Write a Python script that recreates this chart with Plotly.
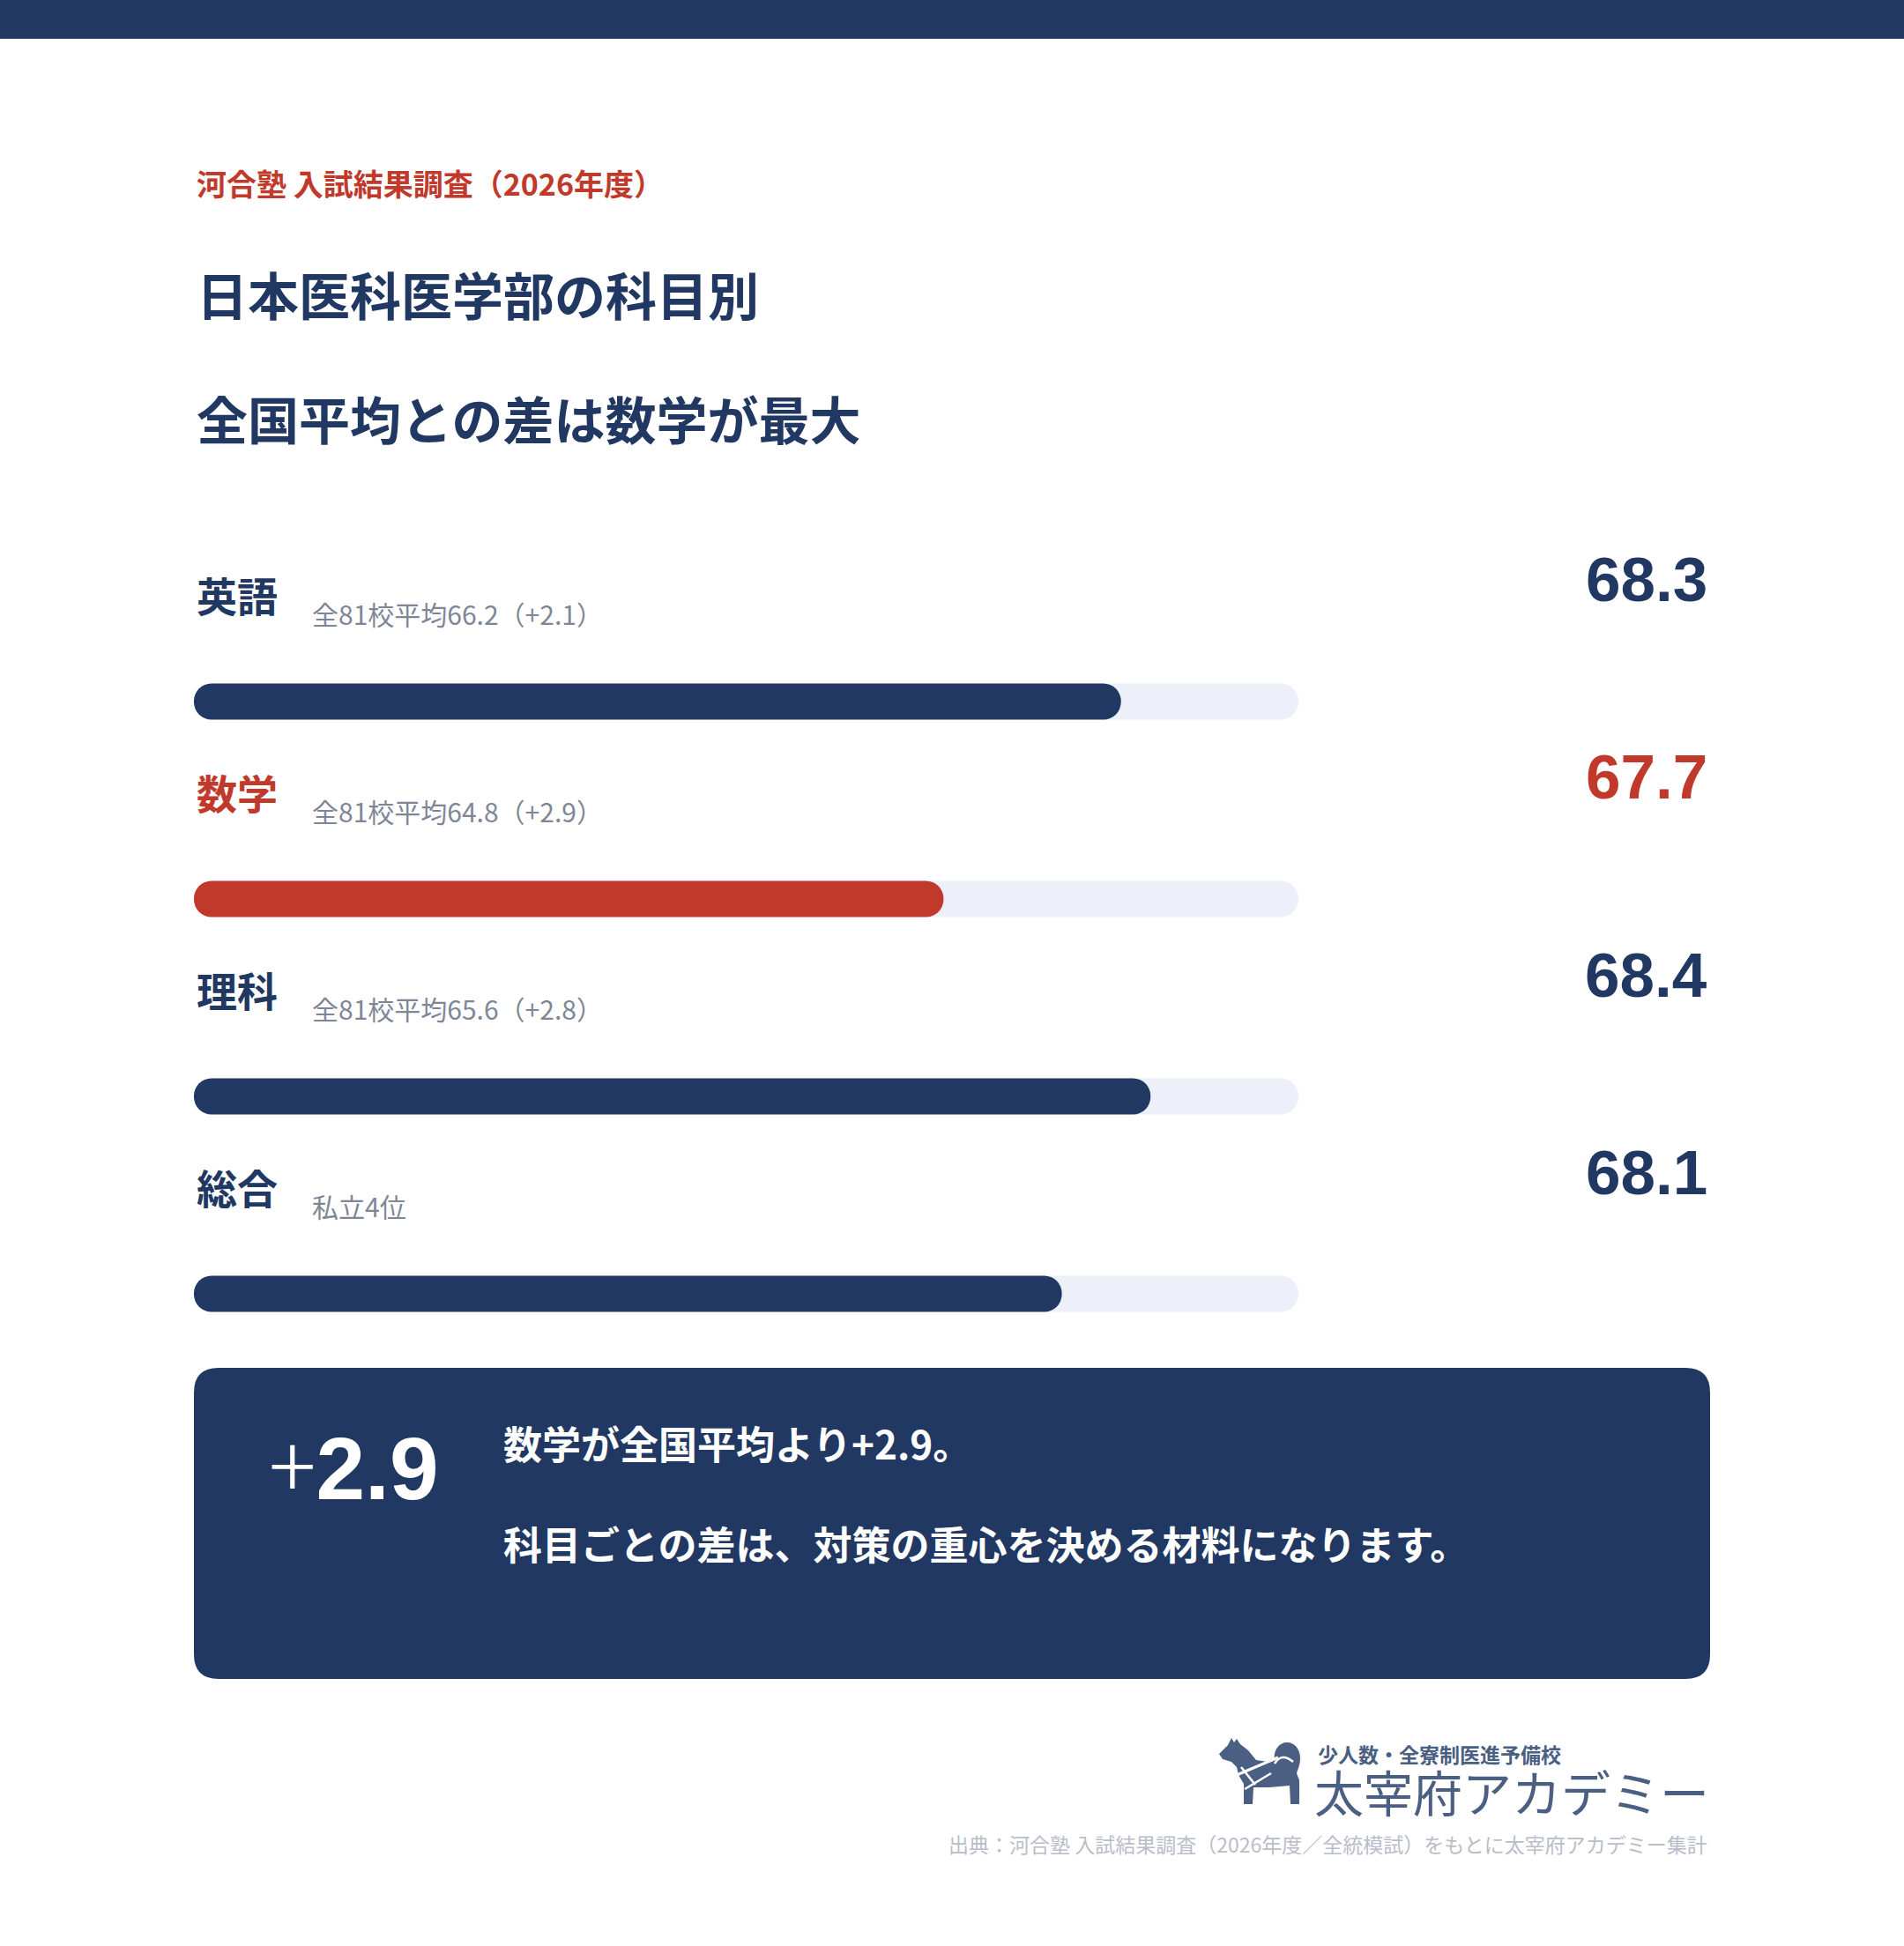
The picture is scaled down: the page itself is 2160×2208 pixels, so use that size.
import base64
import plotly.graph_objects as go

W, H = 2160, 2208

NAVY = "#213862"
RED = "#c0392b"
TRACK = "#edf0f8"
GRAY = "#7f8797"
LIGHT = "#b9bdc9"
LOGO = "#4a5f82"
JP = "Noto Sans CJK JP"
NUM = "Liberation Sans"

# data
subjects = ["英語", "数学", "理科", "総合"]
scores = [68.3, 67.7, 68.4, 68.1]
national_avg = [66.2, 64.8, 65.6, None]
diffs = [2.1, 2.9, 2.8, None]
notes = [None, None, None, "私立4位"]
highlight = "数学"
school_count = 81

# bar scale (value at the left edge of the track / at its right end)
X_LO, X_HI = 65.165, 68.9
BAR_PX = 41
ROW_PX = 224


def px_x(p):
    return p / W


def px_y(p):
    return 1 - p / H


# track spans x pixels 220..1473, rows centred at 796 + 224*i
x_dom = [px_x(220), px_x(1473)]
y_dom = [px_y(572 + ROW_PX * 4.5), px_y(572)]

rows = list(range(len(subjects)))
colors = [RED if s == highlight else NAVY for s in subjects]
bw = BAR_PX / ROW_PX


def bar(x, color):
    # bars with a base get both ends rounded
    return go.Bar(y=rows, x=x, base=X_LO, orientation="h", width=bw,
                  marker=dict(color=color, cornerradius=20, line_width=0),
                  hoverinfo="skip")


fig = go.Figure()
fig.add_trace(bar([X_HI - X_LO] * len(rows), TRACK))
fig.add_trace(bar([s - X_LO for s in scores], colors))

ann = []
for i, s in enumerate(subjects):
    c = colors[i]
    ann.append(dict(text=s, x=px_x(221), xref="paper", y=i, yref="y", yshift=122,
                    xanchor="left", yanchor="middle", showarrow=False,
                    font=dict(family=JP, size=46, color=c, weight="bold")))
    if national_avg[i] is not None:
        sub = f"全{school_count}校平均{national_avg[i]}（+{diffs[i]}）"
    else:
        sub = notes[i]
    ann.append(dict(text=sub, x=px_x(352), xref="paper", y=i, yref="y", yshift=100,
                    xanchor="left", yanchor="middle", showarrow=False,
                    font=dict(family=JP, size=30, color=GRAY)))
    ann.append(dict(text=f"{scores[i]:.1f}", x=px_x(1939), xref="paper", y=i, yref="y",
                    yshift=138, xanchor="right", yanchor="middle", showarrow=False,
                    font=dict(family=NUM, size=71, color=c, weight="bold")))

hi = subjects.index(highlight)
gap = diffs[hi]


def paper_text(text, xp, yp, size, color, anchor="left", weight="normal", family=JP):
    return dict(text=text, x=px_x(xp), y=px_y(yp), xref="paper", yref="paper",
                xanchor=anchor, yanchor="middle", showarrow=False,
                font=dict(family=family, size=size, color=color, weight=weight))


ann += [
    paper_text("河合塾 入試結果調査（2026年度）", 221, 208, 34, RED, weight="bold"),
    paper_text("日本医科医学部の科目別", 221, 333, 58, NAVY, weight="bold"),
    paper_text("全国平均との差は数学が最大", 221, 474, 58, NAVY, weight="bold"),
    paper_text(f"<span style='font-family:{JP};font-weight:300'>+</span>{gap}", 303, 1657, 100,
               "white", weight="bold", family=NUM),
    paper_text(f"{highlight}が全国平均より+{gap}。", 569, 1637, 44, "white", weight="bold"),
    paper_text("科目ごとの差は、対策の重心を決める材料になります。", 569, 1751, 44, "white",
               weight="bold"),
    paper_text("少人数・全寮制医進予備校", 1633, 1990, 23, LOGO, anchor="center", weight="bold"),
    paper_text("太宰府アカデミー", 1715, 2031, 56, LOGO, anchor="center"),
    paper_text("出典：河合塾 入試結果調査（2026年度／全統模試）をもとに太宰府アカデミー集計",
               1939, 2092, 23, LIGHT, anchor="right"),
]

# rounded summary box
bx0, bx1, by0, by1, r = 220, 1940, 1552, 1905, 28
X = lambda p: f"{px_x(p):.6f}"
Y = lambda p: f"{px_y(p):.6f}"
box_path = (
    f"M {X(bx0 + r)},{Y(by0)} L {X(bx1 - r)},{Y(by0)} Q {X(bx1)},{Y(by0)} {X(bx1)},{Y(by0 + r)} "
    f"L {X(bx1)},{Y(by1 - r)} Q {X(bx1)},{Y(by1)} {X(bx1 - r)},{Y(by1)} "
    f"L {X(bx0 + r)},{Y(by1)} Q {X(bx0)},{Y(by1)} {X(bx0)},{Y(by1 - r)} "
    f"L {X(bx0)},{Y(by0 + r)} Q {X(bx0)},{Y(by0)} {X(bx0 + r)},{Y(by0)} Z"
)

shapes = [
    dict(type="rect", xref="paper", yref="paper", x0=0, x1=1, y0=px_y(44), y1=1,
         fillcolor=NAVY, line_width=0),
    dict(type="path", xref="paper", yref="paper", path=box_path,
         fillcolor=NAVY, line_width=0),
]

# dog mark of the logo
dog_svg = f"""<svg xmlns='http://www.w3.org/2000/svg' width='100' height='80' viewBox='0 0 100 80'>
<path fill='{LOGO}' d='M5,22 L15,12 L19,4 L22,9 L25,5 L29,11 L38,18 L47,29 L60,31 L68,29
C66,20 72,9 82,9 C91,9 97,17 97,27 C97,35 94,40 93,44 L96,52 L96,79 L86,79 L85,58
L62,60 L44,60 L43,79 L33,79 L33,56 L27,46 L25,37 L19,31 L9,28 Z'/>
<path d='M68,33 Q76,20 89,31' stroke='white' stroke-width='2.6' fill='none'/>
<path d='M25,46 L72,26' stroke='white' stroke-width='3.2' fill='none'/>
<path d='M30,37 L46,57' stroke='white' stroke-width='2.6' fill='none'/>
<path d='M34,62 L64,44' stroke='white' stroke-width='2.6' fill='none'/>
</svg>"""
dog_uri = "data:image/svg+xml;base64," + base64.b64encode(dog_svg.encode("utf-8")).decode()

fig.update_layout(
    width=W, height=H,
    margin=dict(l=0, r=0, t=0, b=0),
    paper_bgcolor="white", plot_bgcolor="rgba(0,0,0,0)",
    barmode="overlay", showlegend=False,
    xaxis=dict(domain=x_dom, range=[X_LO, X_HI], visible=False, fixedrange=True),
    yaxis=dict(domain=y_dom, range=[3.5, -1], visible=False, fixedrange=True),
    annotations=ann, shapes=shapes,
    images=[dict(source=dog_uri, xref="paper", yref="paper", x=px_x(1378), y=px_y(1968),
                 sizex=100 / W, sizey=80 / H, xanchor="left", yanchor="top",
                 sizing="stretch", layer="above")],
)

fig.write_html("out.html", config={"displayModeBar": False},
               post_script="document.body.style.margin='0';")
